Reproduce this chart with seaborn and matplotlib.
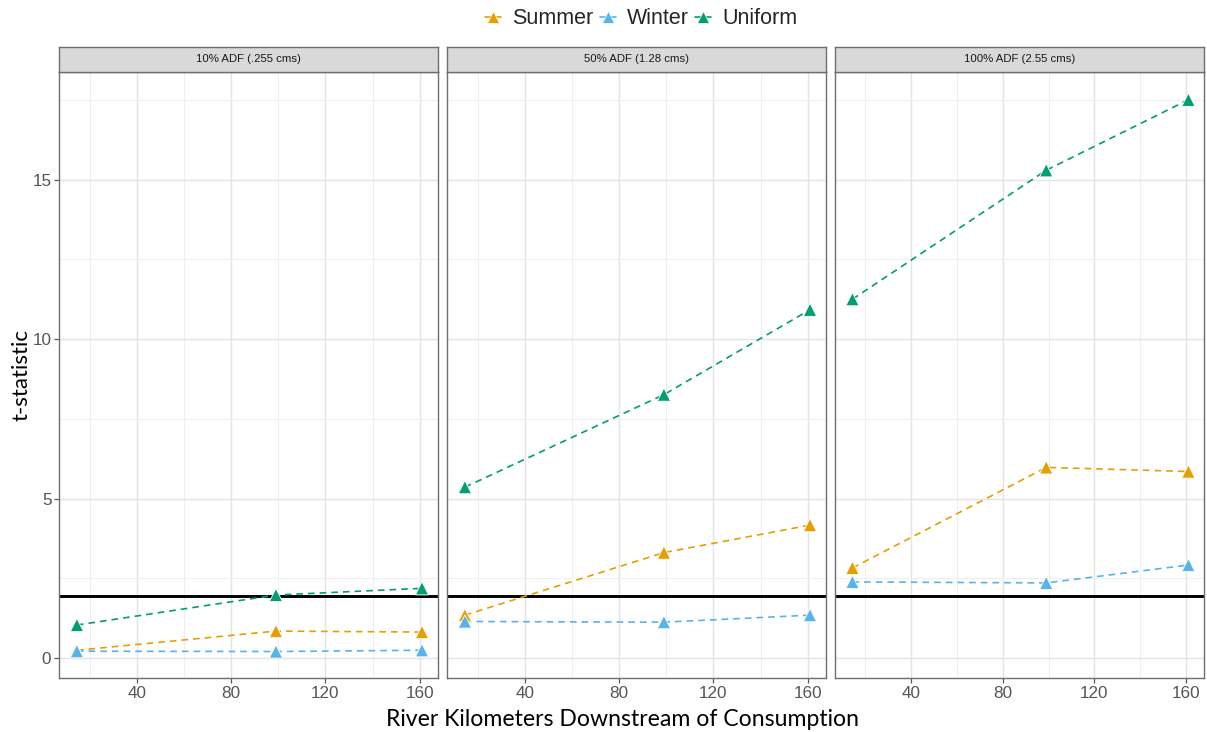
import matplotlib
matplotlib.use("Agg")
import matplotlib.pyplot as plt
from matplotlib.lines import Line2D
from matplotlib.ticker import MultipleLocator
import seaborn as sns
import pandas as pd

# Distances downstream (km) at which the t-statistic was computed
river_km = [14.5, 99, 161]

# Flow scenarios (facets)
scenarios = ["10% ADF (.255 cms)", "50% ADF (1.28 cms)", "100% ADF (2.55 cms)"]

# Consumption patterns
patterns = ["Summer", "Winter", "Uniform"]

# t-statistic values per scenario, one list per pattern
summer_t = [[0.25, 0.85, 0.82], [1.35, 3.31, 4.17], [2.83, 5.98, 5.85]]
winter_t = [[0.22, 0.21, 0.25], [1.15, 1.13, 1.35], [2.39, 2.36, 2.92]]
uniform_t = [[1.04, 1.98, 2.19], [5.36, 8.26, 10.92], [11.25, 15.29, 17.50]]

# Critical value reference line
t_critical = 1.96

colors = {"Summer": "#E69F00", "Winter": "#56B4E9", "Uniform": "#009E73"}

rows = []
for pat, vals in zip(patterns, [summer_t, winter_t, uniform_t]):
    for scen, series in zip(scenarios, vals):
        for km, t in zip(river_km, series):
            rows.append({"scenario": scen, "pattern": pat, "km": km, "t": t})
df = pd.DataFrame(rows)

sns.set_theme(style="white")
plt.rcParams["font.family"] = ["Liberation Sans", "DejaVu Sans"]

W, H = 1207, 732
fig = plt.figure(figsize=(W / 100, H / 100), dpi=100)

panel_lefts = [59, 447, 835]
panel_w = 379
top_px, bottom_px = 72, 678
strip_h = 25

xmin, xmax = 6.9, 167.8
ymin, ymax = -0.62, 18.37

border_col = "#6e6e6e"
for i, scen in enumerate(scenarios):
    left = panel_lefts[i] / W
    width = (min(panel_lefts[i] + panel_w, 1204) - panel_lefts[i]) / W
    ax = fig.add_axes([left, 1 - bottom_px / H, width, (bottom_px - top_px) / H])
    sub = df[df["scenario"] == scen]

    ax.set_xlim(xmin, xmax)
    ax.set_ylim(ymin, ymax)
    ax.xaxis.set_major_locator(MultipleLocator(40))
    ax.xaxis.set_minor_locator(MultipleLocator(20))
    ax.yaxis.set_major_locator(MultipleLocator(5))
    ax.yaxis.set_minor_locator(MultipleLocator(2.5))
    ax.grid(which="major", color="#e4e4e4", lw=1.0)
    ax.grid(which="minor", color="#efefef", lw=0.8)
    ax.set_axisbelow(True)

    ax.axhline(t_critical, color="black", lw=2.1, zorder=2)

    sns.lineplot(data=sub, x="km", y="t", hue="pattern", palette=colors,
                 hue_order=patterns, ax=ax, legend=False, lw=1.2,
                 linestyle=(0, (4, 3)), zorder=3)
    sns.scatterplot(data=sub, x="km", y="t", hue="pattern", palette=colors,
                    hue_order=patterns, ax=ax, legend=False, marker="^",
                    s=90, edgecolor="white", linewidth=0.6, zorder=4)

    ax.set_xlabel("")
    ax.set_ylabel("")
    for sp in ax.spines.values():
        sp.set_color(border_col)
        sp.set_linewidth(1.0)
    ax.tick_params(axis="both", which="major", length=3.5, width=0.9,
                   color="#555555", labelsize=12.3, labelcolor="#555555",
                   direction="out", pad=2, bottom=True, left=(i == 0))
    ax.tick_params(which="minor", length=0)
    if i > 0:
        ax.set_yticklabels([])

    # Facet strip
    sax = fig.add_axes([left, 1 - top_px / H, width, strip_h / H])
    sax.set_facecolor("#d9d9d9")
    sax.set_xticks([])
    sax.set_yticks([])
    for sp in sax.spines.values():
        sp.set_color(border_col)
        sp.set_linewidth(1.0)
    sax.text(0.5, 0.5, scen, ha="center", va="center", fontsize=8.2,
             color="#1a1a1a", transform=sax.transAxes)

fig.text(622 / W, 1 - 719 / H, "River Kilometers Downstream of Consumption",
         ha="center", va="center", fontsize=16.6, color="black",
         family=["Lato", "DejaVu Sans"])
fig.text(32 / W, 1 - 375 / H, "t-statistic", ha="right", va="center",
         rotation=90, fontsize=16, color="black",
         family=["Lato", "DejaVu Sans"])

handles = [Line2D([0], [0], color=colors[p], marker="^", ms=8, lw=1.2,
                  markeredgecolor="white", markeredgewidth=0.5)
           for p in patterns]
fig.legend(handles, patterns, loc="center", bbox_to_anchor=(641 / W, 1 - 19 / H),
           ncol=3, frameon=False, fontsize=15.5, handlelength=0.75,
           handletextpad=0.5, columnspacing=0.3)

fig.savefig("out.png", dpi=100)
